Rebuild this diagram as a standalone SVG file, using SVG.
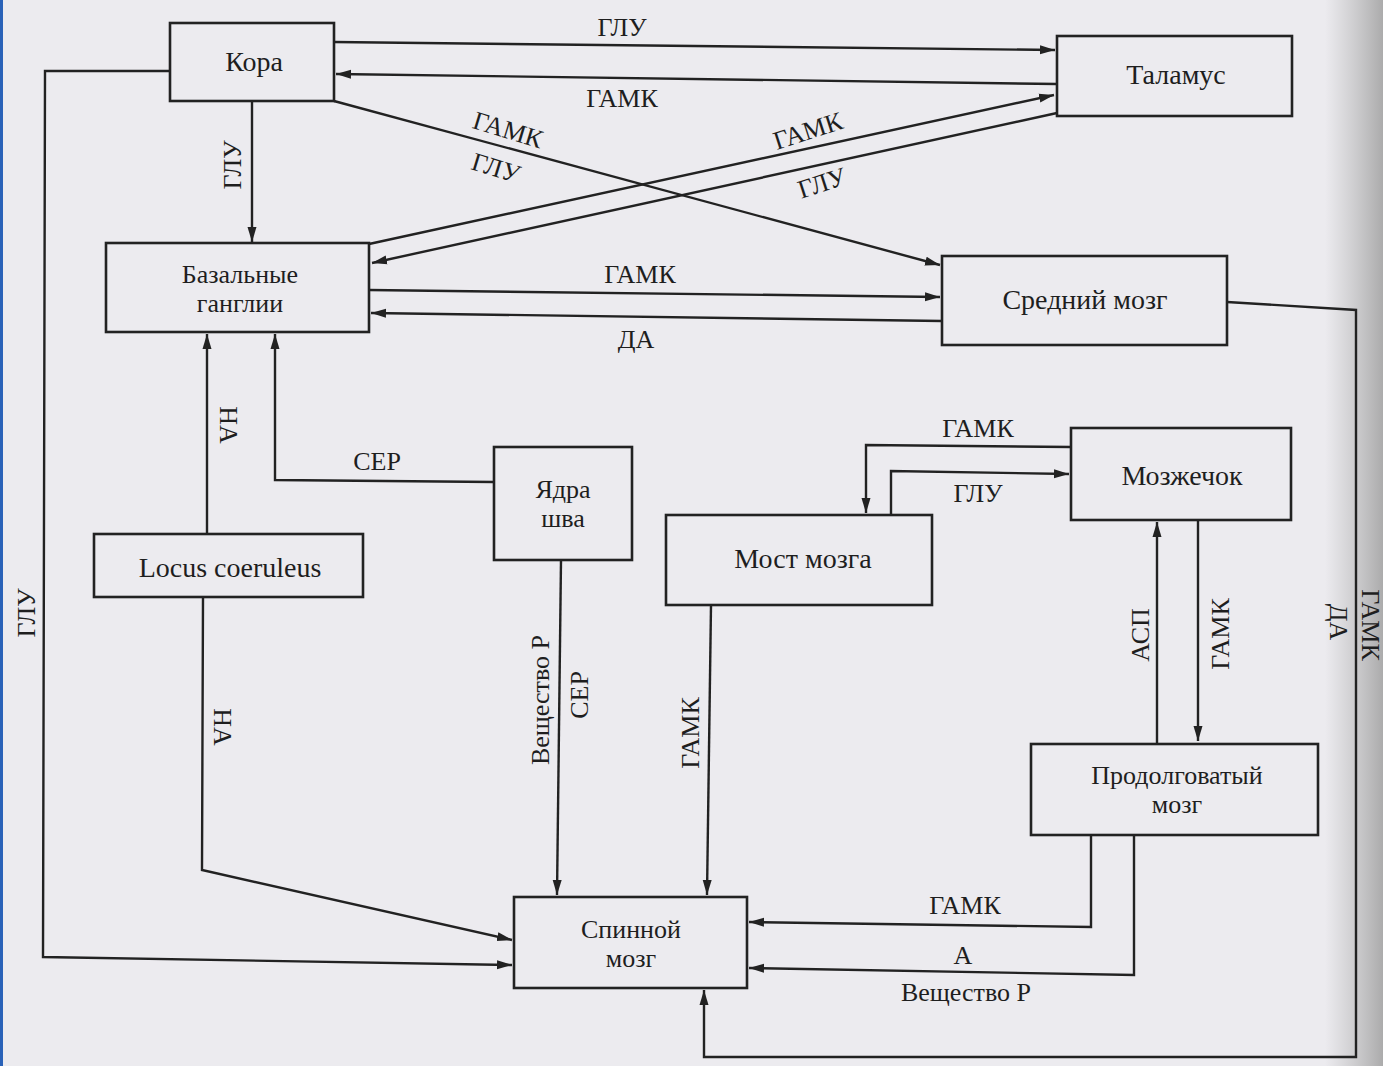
<svg xmlns="http://www.w3.org/2000/svg" width="1383" height="1066" viewBox="0 0 1383 1066">
<defs>
<marker id="ah" markerUnits="userSpaceOnUse" markerWidth="16" markerHeight="10" refX="15" refY="5" orient="auto">
<path d="M0,0.5 L15,5 L0,9.5 z" fill="#222"/>
</marker>
<linearGradient id="edge" x1="0" y1="0" x2="1" y2="0">
<stop offset="0" stop-color="#b0b0b0" stop-opacity="0"/>
<stop offset="1" stop-color="#a4a4a4" stop-opacity="0.9"/>
</linearGradient>
</defs>
<style>
.box{fill:none;stroke:#222;stroke-width:2.6}
.ln{fill:none;stroke:#222;stroke-width:2.4}
.ar{marker-end:url(#ah)}
.nt{font-family:"Liberation Serif","DejaVu Serif",serif;font-size:28px;fill:#1e1e1e;text-anchor:middle;dominant-baseline:central}
.n2{font-size:26px}
.lb{font-family:"Liberation Serif","DejaVu Serif",serif;font-size:26px;fill:#1e1e1e;text-anchor:middle;dominant-baseline:central}
</style>
<rect x="0" y="0" width="1383" height="1066" fill="#ecebef"/>
<rect x="1325" y="0" width="58" height="1066" fill="url(#edge)"/>
<rect x="0" y="0" width="3" height="1066" fill="#2a62b8"/>

<g id="connectors">
<path class="ln ar" d="M334,42 L1055,50"/>
<path class="ln ar" d="M1057,84 L336,74"/>
<path class="ln ar" d="M252,101 L252,242"/>
<path class="ln ar" d="M334,101 L940,265"/>
<path class="ln ar" d="M369,244 L1054,95"/>
<path class="ln ar" d="M1057,113 L372,263"/>
<path class="ln ar" d="M369,290 L940,297"/>
<path class="ln ar" d="M942,321 L371,313"/>
<path class="ln ar" d="M1227,302 L1356,310 L1356,1057 L704,1057 L704,990"/>
<path class="ln ar" d="M207,533 L207,334"/>
<path class="ln ar" d="M494,482 L275,480 L275,334"/>
<path class="ln ar" d="M203,597 L202,870 L512,940"/>
<path class="ln ar" d="M170,71 L45,71 L43,957 L512,965"/>
<path class="ln ar" d="M561,560 L557,895"/>
<path class="ln ar" d="M711,605 L707,895"/>
<path class="ln ar" d="M1071,447 L866,445 L866,513"/>
<path class="ln ar" d="M891,514 L891,471 L1069,474"/>
<path class="ln ar" d="M1157,743 L1157,522"/>
<path class="ln ar" d="M1198,520 L1198,741"/>
<path class="ln ar" d="M1091,835 L1091,927 L749,922"/>
<path class="ln ar" d="M1134,835 L1134,975 L749,968"/>
</g>

<g id="labels">
<text class="lb" x="622" y="27">ГЛУ</text>
<text class="lb" x="622" y="98">ГАМК</text>
<text class="lb" transform="translate(232,165) rotate(-90)">ГЛУ</text>
<text class="lb" transform="translate(508,130) rotate(17)">ГАМК</text>
<text class="lb" transform="translate(496,168) rotate(17)">ГЛУ</text>
<text class="lb" transform="translate(808,131) rotate(-18)">ГАМК</text>
<text class="lb" transform="translate(822,183) rotate(-18)">ГЛУ</text>
<text class="lb" x="640" y="274">ГАМК</text>
<text class="lb" x="636" y="339">ДА</text>
<text class="lb" transform="translate(228,425) rotate(90)">НА</text>
<text class="lb" x="377" y="461">СЕР</text>
<text class="lb" transform="translate(26,613) rotate(-90)">ГЛУ</text>
<text class="lb" transform="translate(222,727) rotate(90)">НА</text>
<text class="lb" transform="translate(540,700) rotate(-90)">Вещество Р</text>
<text class="lb" transform="translate(579,695) rotate(-90)">СЕР</text>
<text class="lb" transform="translate(690,733) rotate(-90)">ГАМК</text>
<text class="lb" x="978" y="428">ГАМК</text>
<text class="lb" x="978" y="493">ГЛУ</text>
<text class="lb" transform="translate(1140,635) rotate(-90)">АСП</text>
<text class="lb" transform="translate(1220,634) rotate(-90)">ГАМК</text>
<text class="lb" transform="translate(1370,625) rotate(90)">ГАМК</text>
<text class="lb" transform="translate(1338,622) rotate(90)">ДА</text>
<text class="lb" x="965" y="905">ГАМК</text>
<text class="lb" x="963" y="955">А</text>
<text class="lb" x="966" y="992">Вещество Р</text>
</g>

<g id="kora"><rect class="box" x="170" y="23" width="164" height="78"/><text class="nt" x="254" y="61">Кора</text></g>
<g id="talamus"><rect class="box" x="1057" y="36" width="235" height="80"/><text class="nt" x="1176" y="74">Таламус</text></g>
<g id="bazalnye"><rect class="box" x="106" y="243" width="263" height="89"/><text class="nt n2" x="240" y="274">Базальные</text><text class="nt n2" x="240" y="303">ганглии</text></g>
<g id="sredniy"><rect class="box" x="942" y="256" width="285" height="89"/><text class="nt" x="1085" y="299">Средний мозг</text></g>
<g id="yadra"><rect class="box" x="494" y="447" width="138" height="113"/><text class="nt n2" x="563" y="489">Ядра</text><text class="nt n2" x="563" y="518">шва</text></g>
<g id="locus"><rect class="box" x="94" y="534" width="269" height="63"/><text class="nt" x="230" y="567">Locus coeruleus</text></g>
<g id="mozzhechok"><rect class="box" x="1071" y="428" width="220" height="92"/><text class="nt" x="1182" y="475">Мозжечок</text></g>
<g id="most"><rect class="box" x="666" y="515" width="266" height="90"/><text class="nt" x="803" y="558">Мост мозга</text></g>
<g id="prodolgovatyy"><rect class="box" x="1031" y="744" width="287" height="91"/><text class="nt n2" x="1177" y="775">Продолговатый</text><text class="nt n2" x="1177" y="804">мозг</text></g>
<g id="spinnoy"><rect class="box" x="514" y="897" width="233" height="91"/><text class="nt n2" x="631" y="929">Спинной</text><text class="nt n2" x="631" y="958">мозг</text></g>
</svg>
